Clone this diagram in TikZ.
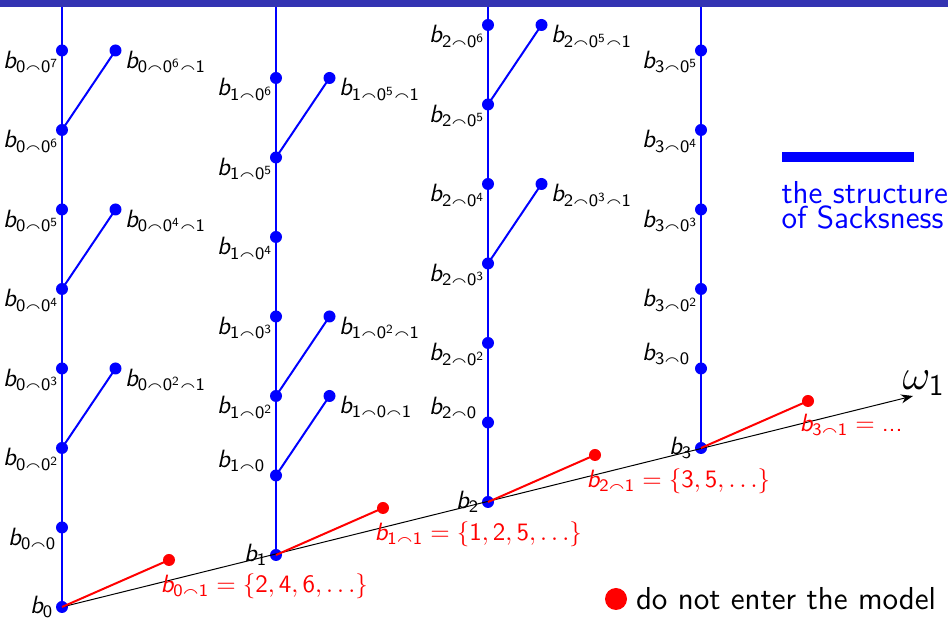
\documentclass[tikz,border=0pt]{standalone}
\usepackage{amssymb}
\usetikzlibrary{arrows.meta,positioning}
\definecolor{framebar}{rgb}{0.2,0.2,0.7}
% sans serif math as on the slide
\DeclareSymbolFont{sfltr}{OT1}{cmss}{m}{sl}
\DeclareSymbolFont{sfnum}{OT1}{cmss}{m}{n}
\DeclareMathSymbol{b}{\mathalpha}{sfltr}{`b}
\DeclareMathSymbol{0}{\mathalpha}{sfnum}{`0}
\DeclareMathSymbol{1}{\mathalpha}{sfnum}{`1}
\DeclareMathSymbol{2}{\mathalpha}{sfnum}{`2}
\DeclareMathSymbol{3}{\mathalpha}{sfnum}{`3}
\DeclareMathSymbol{4}{\mathalpha}{sfnum}{`4}
\DeclareMathSymbol{5}{\mathalpha}{sfnum}{`5}
\DeclareMathSymbol{6}{\mathalpha}{sfnum}{`6}
\DeclareMathSymbol{7}{\mathalpha}{sfnum}{`7}
\DeclareMathSymbol{=}{\mathrel}{sfnum}{`=}
\DeclareMathSymbol{.}{\mathord}{sfnum}{`.}
\newcommand{\zpow}[1]{\ifnum#1=1 0\else 0^{#1}\fi}
\newcommand{\tdots}{...}

\begin{document}
\begin{tikzpicture}[x=.4pt,y=.4pt,>=Stealth,
 font=\fontsize{12.7}{10}\selectfont\sffamily,
 dot/.style={circle,fill=blue,inner sep=0pt,minimum size=4.8pt},
 bad/.style={dot,fill=red},
 tree/.style={blue,line width=.8pt},
 lab/.style={inner sep=0pt},
 mlab/.style={inner sep=0pt,font=\fontsize{10}{12}\selectfont},
 redlab/.style={mlab,red,anchor=north west,font=\fontsize{10.4}{12}\selectfont}]
 \useasboundingbox (0,0) rectangle (948,620);
 \fill[framebar] (0,613) rectangle (948,620);
 % towers b_i, b_i^0^k
 \foreach \i/\bx/\by/\n in {0/62/13/7,1/276/65/6,2/488/118/6,3/701/172/5}{
  \coordinate (t\i) at (\bx,613);
  \node[dot] (b\i) at (\bx,\by) {};
  \draw[tree] (b\i.center) -- (t\i);
  \foreach \k in {1,...,\n}{
   \node[dot] (b\i-\k) at (\bx,\by+79.5*\k) {};}
  \node[mlab,anchor=east] at ([shift={(-8,0)}]b\i.center) {$b_{\i}$};
 }
 \foreach \i/\n in {0/7,1/6,2/6,3/5}
  \foreach \k in {2,...,\n}
   \node[mlab,anchor=north east] at ([shift={(-2,0)}]b\i-\k.center) {$b_{\i\smallfrown\zpow{\k}}$};
 \node[mlab,anchor=north east] at ([shift={(-5,0)}]b0-1.center) {$b_{0\smallfrown 0}$};
 \foreach \i in {1,2,3}
  \node[mlab,anchor=south east] at ([shift={(-10,0)}]b\i-1.center) {$b_{\i\smallfrown 0}$};
 % side branches ending in 1
 \foreach \i/\k in {0/2,0/4,0/6,1/1,1/2,1/5,2/3,2/5}{
  \node[dot] (s\i-\k) at ([shift={(53.5,79.5)}]b\i-\k.center) {};
  \draw[tree] (b\i-\k.center) -- (s\i-\k.center);
  \node[mlab,anchor=north west] at ([shift={(9,0)}]s\i-\k.center) {$b_{\i\smallfrown\zpow{\k}\smallfrown 1}$};
 }
 % omega_1 line
 \coordinate (w) at (913,224);
 \draw[->,line width=.4pt] (b0.center) -- (w)
  node[lab,anchor=south west,xshift=-4.4pt,font=\fontsize{18}{20}\selectfont] (om) {$\omega_1$};
 % red points
 \foreach \i/\t in {0/{\{2,4,6,\ldots\}},1/{\{1,2,5,\ldots\}},2/{\{3,5,\ldots\}},3/\tdots}{
  \node[bad] (r\i) at ([shift={(107,47)}]b\i.center) {};
  \draw[red,line width=.8pt] (b\i.center) -- (r\i.center);
  \node[redlab] at ([shift={(-9,-13)}]r\i.center) {$b_{\i\smallfrown 1}=\t$};
 }
 % legend
 \node[fill=blue,inner sep=0pt,minimum width=52.8pt,minimum height=4pt,anchor=west] (sbar) at (781,463) {};
 \node[lab,blue,align=left,anchor=north west] (stxt) at ([shift={(0,-18)}]sbar.south west) {the structure\\of Sacksness};
 \node[bad,minimum size=8.8pt] (leg) at (616,21) {};
 \node[lab,right=3.2pt of leg] (legtxt) {do not enter the model};
\end{tikzpicture}
\end{document}
